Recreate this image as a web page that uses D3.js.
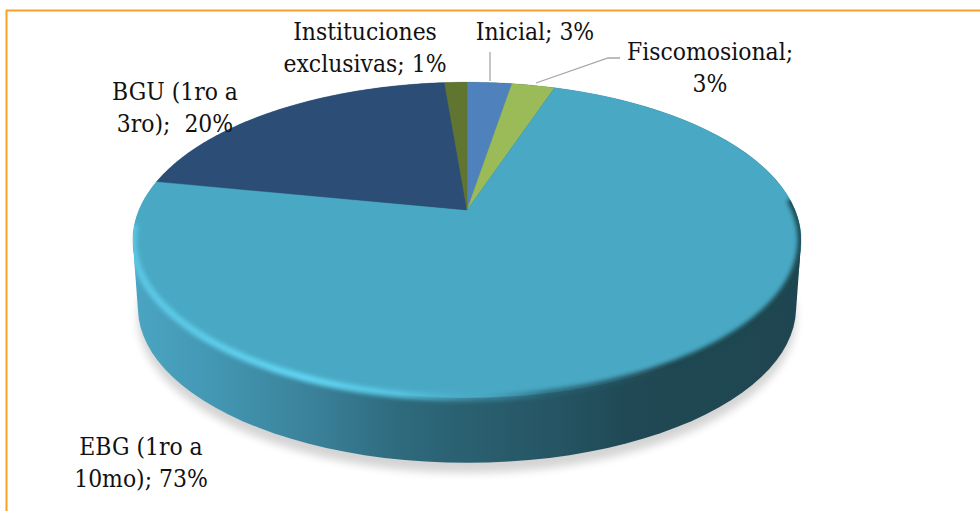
<!DOCTYPE html>
<html><head><meta charset="utf-8">
<script src="https://cdn.jsdelivr.net/npm/d3@7/dist/d3.min.js"></script>
<style>html,body{margin:0;padding:0;background:#fff}svg{display:block}text{font-family:"DejaVu Serif Condensed","DejaVu Serif",serif;font-stretch:condensed;font-size:24.4px;fill:#111;text-anchor:middle;white-space:pre}</style>
</head><body><script>
const categories = ["Inicial","Fiscomosional","EBG (1ro a 10mo)","BGU (1ro a 3ro)","Instituciones exclusivas"];
const shares = [2.6,2.5,73,20.6,1.3];
const labelLines = [["Inicial; 3%"],["Fiscomosional;","3%"],["EBG (1ro a","10mo); 73%"],["BGU (1ro a","3ro);  20%"],["Instituciones","exclusivas; 1%"]];
const colors = ["#4f81bd","#9bbb59","#49a9c4","#2c4d75","#5f7530"];

const W=980,H=511;
const svg=d3.select("body").append("svg").attr("width",W).attr("height",H);
const cx=467,y0=210,rx=328,b=152,k=0.19;
// perspective projection of the unit disc; angle measured clockwise from top
const proj=(a,r=1,s=1,dy=0)=>{const u=r*Math.sin(a),v=-r*Math.cos(a),q=1-k*v; return [cx+s*rx*u/q,y0+dy+s*b*v/q];};
const line=d3.line();
const sample=(a0,a1,s=1,dy=0)=>d3.range(0,121).map(i=>proj(a0+(a1-a0)*i/120,1,s,dy));

const defs=svg.append("defs");
const sideG=defs.append("linearGradient").attr("id","side").attr("gradientUnits","userSpaceOnUse")
 .attr("x1",134).attr("x2",800).attr("y1",0).attr("y2",0);
[[0,"#4aa5c2"],[.12,"#4397b3"],[.27,"#3a8199"],[.4,"#2e6a7d"],[.5,"#2a6070"],[.62,"#265665"],[.74,"#204955"],[1,"#1f4650"]]
 .forEach(([o,c])=>sideG.append("stop").attr("offset",o).attr("stop-color",c));
const rimG=defs.append("linearGradient").attr("id","rim").attr("gradientUnits","userSpaceOnUse")
 .attr("x1",134).attr("x2",800).attr("y1",0).attr("y2",0);
[[0,"#5ccbe8",.9],[.26,"#62d6f4",1],[.4,"#58c8e6",.9],[.52,"#4aa8c3",.5],[.62,"#2a6373",.8],[.8,"#1f4650",1],[1,"#1f4650",1]]
 .forEach(([o,c,a])=>rimG.append("stop").attr("offset",o).attr("stop-color",c).attr("stop-opacity",a));
defs.append("filter").attr("id","blurS").attr("x","-10%").attr("y","-10%").attr("width","120%").attr("height","130%")
 .append("feGaussianBlur").attr("stdDeviation",4.5);
defs.append("filter").attr("id","blurR").attr("x","-10%").attr("y","-10%").attr("width","120%").attr("height","120%")
 .append("feGaussianBlur").attr("stdDeviation",2);

// frame
svg.append("line").attr("x1",6).attr("x2",W).attr("y1",10.5).attr("y2",10.5).attr("stroke","#f9a02b").attr("stroke-width",2);
svg.append("line").attr("x1",6.5).attr("x2",6.5).attr("y1",10).attr("y2",H).attr("stroke","#f9a02b").attr("stroke-width",2);

const TAU=2*Math.PI, wholeOuter=sample(0,TAU), bottomOuter=sample(0,TAU,.985,68);
const idxMax=(arr,f)=>arr.reduce((m,p,i)=>f(p)>f(arr[m])?i:m,0);
const tl=wholeOuter[idxMax(wholeOuter,p=>-p[0])],tr=wholeOuter[idxMax(wholeOuter,p=>p[0])];
const bl=bottomOuter[idxMax(bottomOuter,p=>-p[0])],br=bottomOuter[idxMax(bottomOuter,p=>p[0])];
const silhouette=[line(bottomOuter)+"Z",line([tl,bl,br,tr])+"Z",line(wholeOuter)+"Z"];

// shadow
svg.append("path").attr("d",line(sample(0,TAU,.985,78))+"Z").attr("fill","#000").attr("opacity",.17).attr("filter","url(#blurS)");
// side wall
svg.append("g").selectAll("path").data(silhouette).join("path").attr("d",d=>d).attr("fill","url(#side)");

// slices
const pie=d3.pie().sort(null).value(d=>d);
const arcs=pie(shares);
svg.append("clipPath").attr("id","solidClip").selectAll("path").data(silhouette).join("path").attr("d",d=>d);
svg.append("g").selectAll("path").data(arcs).join("path")
 .attr("d",d=>line([proj(0,0),...sample(d.startAngle,d.endAngle)])+"Z")
 .attr("fill",(d,i)=>colors[i]).attr("stroke",(d,i)=>colors[i]).attr("stroke-width",.4);

// bevel rim on the front edge of the big slice
const rimStart=1.5, rimEnd=4.62;
svg.append("g").attr("clip-path","url(#solidClip)").append("path").attr("d",line(sample(rimStart,rimEnd)))
 .attr("fill","none").attr("stroke","url(#rim)").attr("stroke-width",7).attr("filter","url(#blurR)");

// leader lines
const leaders=[[[490,52],[490,81]],[[536,83],[608,58],[620,58]]];
svg.append("g").selectAll("path").data(leaders).join("path").attr("d",d=>line(d))
 .attr("fill","none").attr("stroke","#a6a6a6").attr("stroke-width",1.3);

// labels
const anchors=[[535,40],[710,60],[141,455],[175,100],[365,40]];
const lh=31.5;
svg.append("g").selectAll("text").data(labelLines).join("text")
 .attr("transform",(d,i)=>`translate(${anchors[i]})`)
 .selectAll("tspan").data(d=>d).join("tspan").attr("x",0).attr("y",(d,i)=>i*lh).text(d=>d);
</script></body></html>
